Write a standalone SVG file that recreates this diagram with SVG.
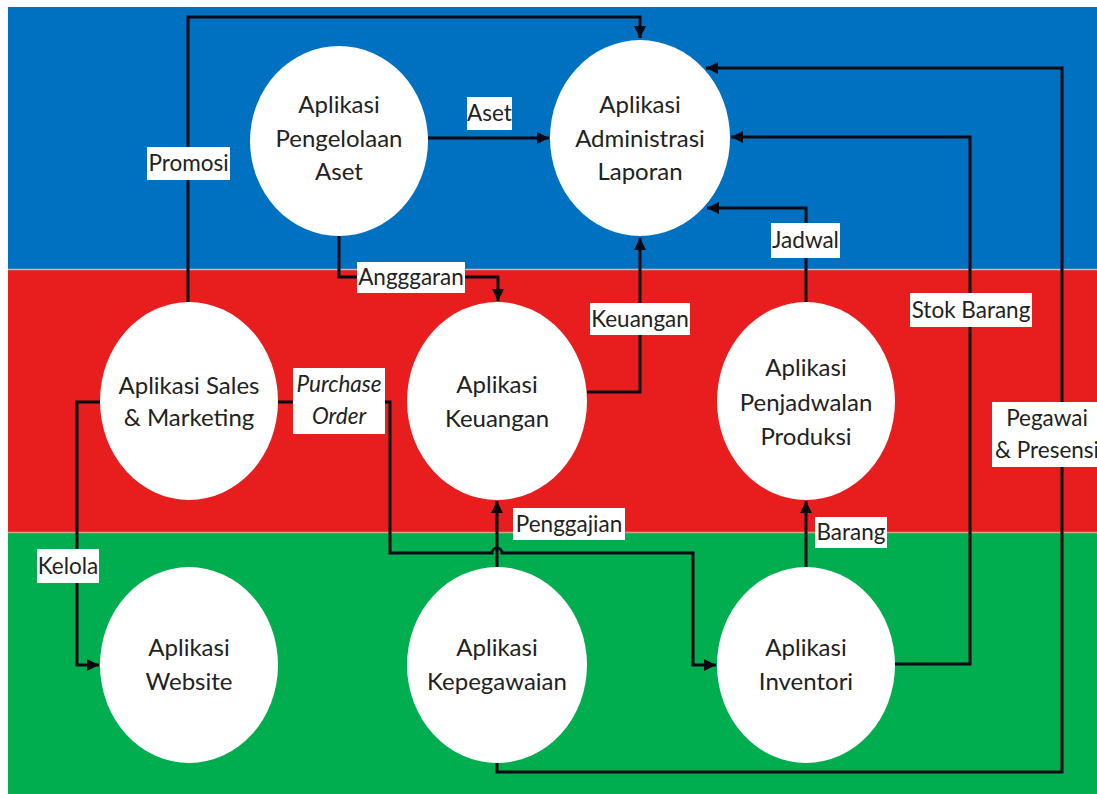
<svg xmlns="http://www.w3.org/2000/svg" width="1097" height="794" viewBox="0 0 1097 794">
<style>
.node{fill:#ffffff;}
.nt{font-family:Lato,"Liberation Sans",sans-serif;font-size:24px;fill:#222222;text-anchor:middle;}
.lb{fill:#ffffff;}
.lt{font-family:Lato,"Liberation Sans",sans-serif;font-size:22.5px;fill:#222222;text-anchor:middle;}
.it{font-style:italic;}
.cn{fill:none;stroke:#0a0a14;stroke-width:3;}
</style>
<defs>
<marker id="ah" markerUnits="userSpaceOnUse" markerWidth="14" markerHeight="14" refX="12" refY="6" orient="auto">
<path d="M0,0 L12,6 L0,12 Z" fill="#0a0a14"/>
</marker>
</defs>
<rect x="0" y="0" width="1097" height="794" fill="#ffffff"/>
<rect x="8" y="7" width="1089" height="262" fill="#0070C0"/>
<rect x="8" y="269" width="1089" height="263" fill="#E81E1E"/>
<rect x="8" y="532" width="1089" height="262" fill="#00AD4F"/>
<line x1="8" y1="269.5" x2="1097" y2="269.5" stroke="#c9b9b9" stroke-width="1.5"/>
<line x1="8" y1="532.5" x2="1097" y2="532.5" stroke="#c9a98f" stroke-width="1.5"/>

<g id="connectors">
<path class="cn" d="M188,303 V17 H640 V38" marker-end="url(#ah)"/>
<path class="cn" d="M428,138 H549" marker-end="url(#ah)"/>
<path class="cn" d="M339,235 V277 H498 V301" marker-end="url(#ah)"/>
<path class="cn" d="M587,392 H640 V238" marker-end="url(#ah)"/>
<path class="cn" d="M806,303 V208 H707" marker-end="url(#ah)"/>
<path class="cn" d="M895,664 H970 V137 H731" marker-end="url(#ah)"/>
<path class="cn" d="M497,762 V772 H1062 V68 H706" marker-end="url(#ah)"/>
<path class="cn" d="M278,402 H390 V553 H492 A5,5 0 0 1 502,553 H693 V665 H716" marker-end="url(#ah)"/>
<path class="cn" d="M100,402 H77 V665 H99" marker-end="url(#ah)"/>
<path class="cn" d="M497,567 V501" marker-end="url(#ah)"/>
<path class="cn" d="M806,567 V501" marker-end="url(#ah)"/>
</g>

<g id="labels">
<rect class="lb" x="147" y="147" width="83" height="33"/><text class="lt" x="188.5" y="171">Promosi</text>
<rect class="lb" x="467" y="97" width="45" height="33"/><text class="lt" x="489.5" y="121">Aset</text>
<rect class="lb" x="357" y="262" width="108" height="31"/><text class="lt" x="411" y="285">Angggaran</text>
<rect class="lb" x="590" y="303" width="100" height="32"/><text class="lt" x="640" y="327">Keuangan</text>
<rect class="lb" x="771" y="223" width="69" height="35"/><text class="lt" x="805.5" y="248">Jadwal</text>
<rect class="lb" x="910" y="293" width="122" height="34"/><text class="lt" x="971" y="318">Stok Barang</text>
<rect class="lb" x="992" y="402" width="110" height="65"/><text class="lt" x="1047" y="426">Pegawai</text><text class="lt" x="1047" y="458">&amp; Presensi</text>
<rect class="lb" x="293" y="368" width="92" height="66"/><text class="lt it" x="339" y="392">Purchase</text><text class="lt it" x="339" y="424">Order</text>
<rect class="lb" x="37" y="549" width="62" height="34"/><text class="lt" x="68" y="574">Kelola</text>
<rect class="lb" x="513" y="508" width="112" height="32"/><text class="lt" x="569" y="532">Penggajian</text>
<rect class="lb" x="815" y="517" width="72" height="31"/><text class="lt" x="851" y="540">Barang</text>
</g>

<g id="node-aset"><ellipse class="node" cx="339" cy="141" rx="89" ry="95"/>
<text class="nt" x="339" y="113">Aplikasi</text><text class="nt" x="339" y="147">Pengelolaan</text><text class="nt" x="339" y="180">Aset</text></g>
<g id="node-laporan"><ellipse class="node" cx="640" cy="138" rx="90" ry="98"/>
<text class="nt" x="640" y="113">Aplikasi</text><text class="nt" x="640" y="147">Administrasi</text><text class="nt" x="640" y="180">Laporan</text></g>
<g id="node-sales"><ellipse class="node" cx="189" cy="401" rx="89" ry="99"/>
<text class="nt" x="189" y="394">Aplikasi Sales</text><text class="nt" x="189" y="426">&amp; Marketing</text></g>
<g id="node-keuangan"><ellipse class="node" cx="497" cy="401" rx="90" ry="99"/>
<text class="nt" x="497" y="393">Aplikasi</text><text class="nt" x="497" y="427">Keuangan</text></g>
<g id="node-penjadwalan"><ellipse class="node" cx="806" cy="401" rx="89" ry="99"/>
<text class="nt" x="806" y="376">Aplikasi</text><text class="nt" x="806" y="411">Penjadwalan</text><text class="nt" x="806" y="445">Produksi</text></g>
<g id="node-website"><ellipse class="node" cx="189" cy="665" rx="89" ry="98"/>
<text class="nt" x="189" y="656">Aplikasi</text><text class="nt" x="189" y="690">Website</text></g>
<g id="node-kepegawaian"><ellipse class="node" cx="497" cy="665" rx="90" ry="98"/>
<text class="nt" x="497" y="656">Aplikasi</text><text class="nt" x="497" y="690">Kepegawaian</text></g>
<g id="node-inventori"><ellipse class="node" cx="806" cy="665" rx="89" ry="98"/>
<text class="nt" x="806" y="656">Aplikasi</text><text class="nt" x="806" y="690">Inventori</text></g>
</svg>
